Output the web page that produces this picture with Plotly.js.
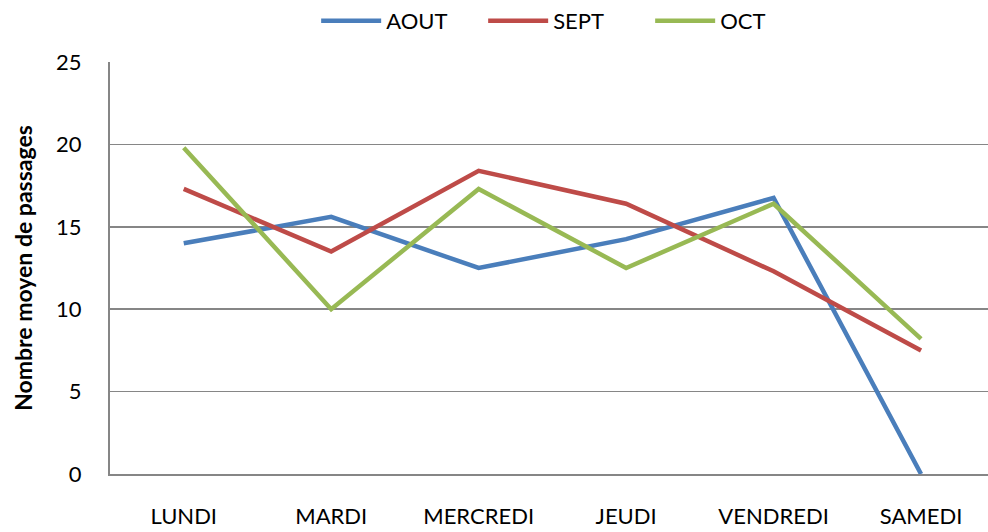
<!DOCTYPE html>
<html>
<head>
<meta charset="utf-8">
<script src="https://cdn.plot.ly/plotly-3.0.1.min.js"></script>
<style>html,body{margin:0;padding:0;background:#fff}#chart{width:988px;height:532px}</style>
</head>
<body>
<div id="chart"></div>
<script>
const days = ["LUNDI", "MARDI", "MERCREDI", "JEUDI", "VENDREDI", "SAMEDI"];
const aout = [14.0, 15.6, 12.5, 14.25, 16.75, 0];
const sept = [17.3, 13.5, 18.4, 16.4, 12.3, 7.5];
const oct = [19.8, 10.0, 17.3, 12.5, 16.4, 8.2];
const seriesNames = ["AOUT", "SEPT", "OCT"];
const colors = ["#4A7EBB", "#BE4B48", "#98B954"];

const font = "Lato, 'Open Sans', 'Liberation Sans', sans-serif";
const traces = [aout, sept, oct].map((v, i) => ({
  type: "scatter", mode: "lines", x: days, y: v, name: seriesNames[i],
  line: {color: colors[i], width: 4.5}
}));

Plotly.newPlot("chart", traces, {
  width: 988, height: 532,
  margin: {l: 110, r: 0, t: 62, b: 58},
  paper_bgcolor: "#fff", plot_bgcolor: "#fff",
  font: {family: font, size: 22, color: "#000"},
  showlegend: true,
  legend: {orientation: "h", xref: "container", x: 0.32, xanchor: "left", y: 1.0, yanchor: "top",
           yref: "container", font: {size: 22}, itemwidth: 60, entrywidth: 92, entrywidthmode: "pixels",
           tracegroupgap: 0, traceorder: "normal"},
  xaxis: {type: "category", range: [-0.5, 5.454], showgrid: false, zeroline: false,
          showline: true, linecolor: "#868686", linewidth: 2, ticks: "",
          ticklabelstandoff: 22, tickfont: {size: 22}},
  yaxis: {range: [0, 25], dtick: 5, tick0: 0, showgrid: true, gridcolor: "#868686", gridwidth: 1.5,
          zeroline: false, showline: true, linecolor: "#868686", linewidth: 2, ticks: "",
          ticklabelstandoff: 22, tickfont: {size: 22},
          title: {text: "<b>Nombre moyen de passages</b>", font: {size: 23}, standoff: 17}}
}, {displayModeBar: false, staticPlot: true});
</script>
</body>
</html>
